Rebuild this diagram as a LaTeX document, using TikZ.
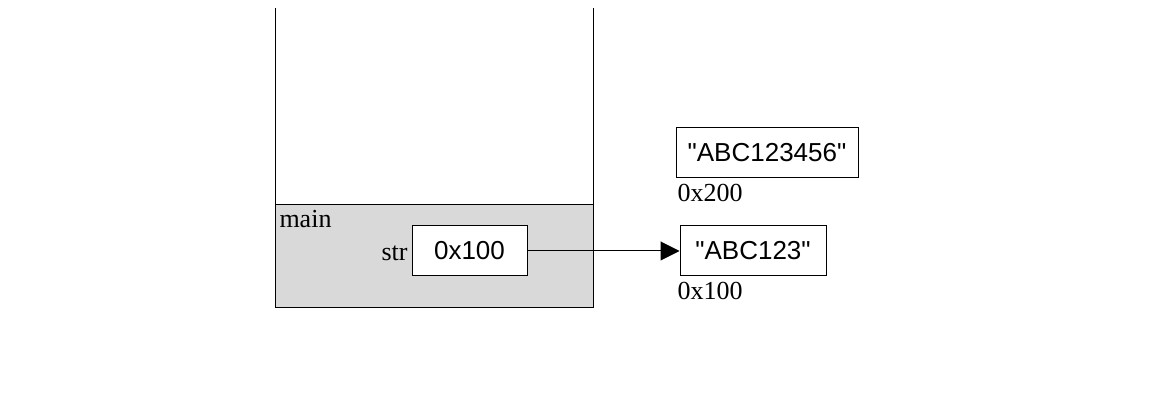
\documentclass[tikz,border=0pt]{standalone}
\usepackage{fontspec}
\setmainfont{Liberation Serif}
\newfontfamily\boxfont{Liberation Sans}
\usetikzlibrary{arrows.meta,positioning}

\tikzset{
  valbox/.style={draw, fill=white, line width=0.5pt, minimum height=25pt, inner sep=0pt,
    font=\boxfont\fontsize{13}{15}\selectfont},
  lbl/.style={inner sep=0pt, font=\fontsize{13}{15}\selectfont},
}

\begin{document}
\begin{tikzpicture}[x=0.5pt, y=-0.5pt, line width=0.5pt]
    \useasboundingbox (0, 0) rectangle (1172, 410);

    % stack frame of main
    \fill[gray!30] (275, 205) rectangle (593, 308);
    \draw (275, 8) -- (275, 308) -- (593, 308) -- (593, 8);
    \draw (275, 205) -- (593, 205);
    \node[lbl, anchor=base west] (mainlbl) at (279, 228) {main};

    % local variable str
    \node[valbox, minimum width=57.5pt] (strbox) at (469.5, 251) {0x100};
    \node[lbl, anchor=base east] (strlbl) at (408, 261) {str};

    % string literals
    \node[valbox, minimum width=91pt] (litB) at (767, 153) {"ABC123456"};
    \node[lbl, anchor=base west] (addrB) at (677, 202) {0x200};
    \node[valbox, minimum width=73pt] (litA) at (753, 251) {"ABC123"};
    \node[lbl, anchor=base west] (addrA) at (677, 300) {0x100};

    % pointer
    \draw[-{Triangle[length=9.5pt, width=9.5pt]}] (strbox) -- (litA);
\end{tikzpicture}
\end{document}
